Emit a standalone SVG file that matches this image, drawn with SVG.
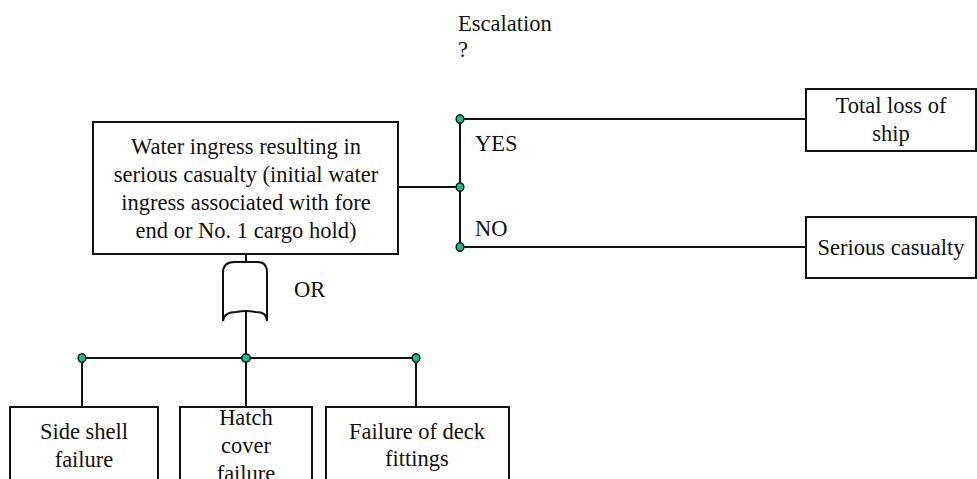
<svg xmlns="http://www.w3.org/2000/svg" width="977" height="479" viewBox="0 0 977 479">
  <style>
    .box { fill: #fff; stroke: #111; stroke-width: 2; }
    .wire { fill: none; stroke: #111; stroke-width: 2; }
    .dot { fill: #14c08f; stroke: #111; stroke-width: 1.5; }
    text { font-family: 'Liberation Serif', 'Times New Roman', serif; font-size: 22.5px; fill: #111; }
    .c { text-anchor: middle; }
  </style>
  <rect width="977" height="479" fill="#fff"/>

  <!-- connectors -->
  <g id="connectors">
    <!-- top event to escalation branch -->
    <path class="wire" d="M398,187 H460"/>
    <path class="wire" d="M460,119 V247"/>
    <path class="wire" d="M460,119 H806"/>
    <path class="wire" d="M460,247 H806"/>
    <!-- top event to OR gate -->
    <path class="wire" d="M246,254 V262"/>
    <path class="wire" d="M246,311 V358"/>
    <!-- OR gate inputs -->
    <path class="wire" d="M82,358 H416"/>
    <path class="wire" d="M82,358 V407"/>
    <path class="wire" d="M246,358 V407"/>
    <path class="wire" d="M416,358 V407"/>
    <!-- junction dots -->
    <ellipse class="dot" cx="460" cy="119" rx="3.8" ry="4.3"/>
    <ellipse class="dot" cx="460" cy="187" rx="3.8" ry="4.3"/>
    <ellipse class="dot" cx="460" cy="247" rx="3.8" ry="4.3"/>
    <ellipse class="dot" cx="82" cy="358" rx="3.8" ry="4.3"/>
    <ellipse class="dot" cx="246" cy="358" rx="4.3" ry="4"/>
    <ellipse class="dot" cx="416" cy="358" rx="3.8" ry="4.3"/>
  </g>

  <g id="escalation-label">
    <text x="458" y="31">Escalation</text>
    <text x="458" y="57">?</text>
  </g>

  <g id="branch-labels">
    <text x="475" y="151">YES</text>
    <text x="475" y="236">NO</text>
  </g>

  <g id="top-event">
    <rect class="box" x="93" y="122" width="305" height="132"/>
    <text class="c" x="246" y="154">Water ingress resulting in</text>
    <text class="c" x="246" y="182">serious casualty (initial water</text>
    <text class="c" x="246" y="210">ingress associated with fore</text>
    <text class="c" x="246" y="238">end or No. 1 cargo hold)</text>
  </g>

  <g id="or-gate">
    <path class="wire" d="M223,321 V273 Q223,262 234,262 H258 Q267,262 267,273 V321 C266,314 263,312 256,312 Q250,311 246,311 Q242,311 236,312 C229,312 224,314 223,321 Z" fill="#fff"/>
    <text x="294" y="297">OR</text>
  </g>

  <g id="total-loss">
    <rect class="box" x="806" y="89" width="170" height="62"/>
    <text class="c" x="891" y="113">Total loss of</text>
    <text class="c" x="891" y="141">ship</text>
  </g>

  <g id="serious-casualty">
    <rect class="box" x="806" y="217" width="170" height="61"/>
    <text class="c" x="891" y="255">Serious casualty</text>
  </g>

  <g id="side-shell">
    <rect class="box" x="10" y="407" width="148" height="90"/>
    <text class="c" x="84" y="439">Side shell</text>
    <text class="c" x="84" y="467">failure</text>
  </g>

  <g id="hatch-cover">
    <rect class="box" x="180" y="407" width="132" height="90"/>
    <text class="c" x="246" y="425">Hatch</text>
    <text class="c" x="246" y="453">cover</text>
    <text class="c" x="246" y="481">failure</text>
  </g>

  <g id="deck-fittings">
    <rect class="box" x="326" y="407" width="183" height="90"/>
    <text class="c" x="417" y="439">Failure of deck</text>
    <text class="c" x="417" y="466">fittings</text>
  </g>
</svg>
